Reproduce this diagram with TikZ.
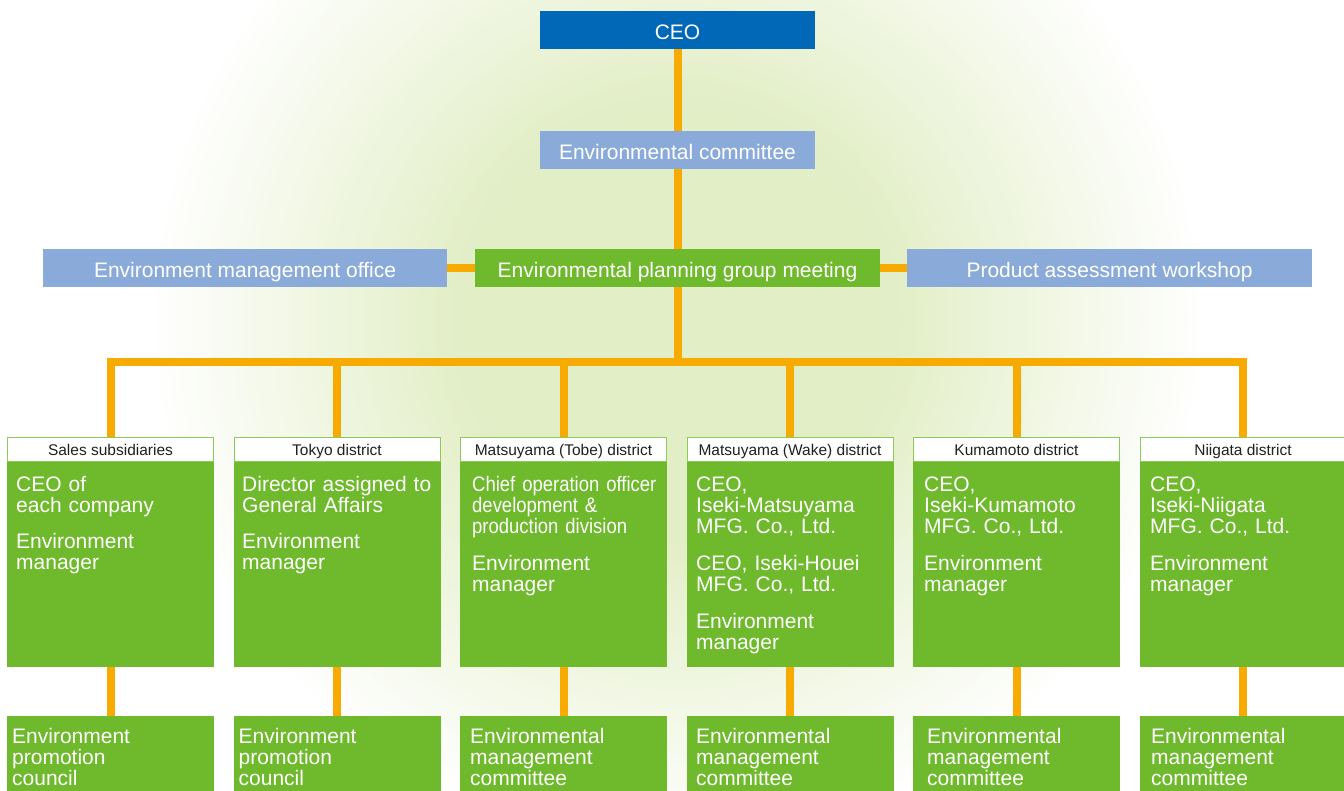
\documentclass[tikz,border=0pt]{standalone}
\usepackage{fontspec}
\setmainfont{Liberation Sans}
\newfontfamily\narrowsans[FakeStretch=0.88]{Liberation Sans}
\definecolor{ceoblue}{HTML}{0068B7}
\definecolor{lightblue}{HTML}{8AAAD9}
\definecolor{boxgreen}{HTML}{6FB92C}
\definecolor{hdrborder}{HTML}{8CCB5A}
\definecolor{linkorange}{HTML}{F7AB00}
\definecolor{glowc}{RGB}{226,238,198}
\definecolor{hdrtext}{HTML}{231F20}
\begin{document}
\begin{tikzpicture}[x=1pt,y=-1pt,
  topbox/.style={minimum height=38pt, inner sep=0pt, text height=19pt, text depth=0pt, text=white, font=\fontsize{21}{21}\selectfont},
  conn/.style={draw=linkorange, line width=8pt},
  distbox/.style={fill=boxgreen, minimum width=207pt, minimum height=230pt, inner sep=0pt},
  hdr/.style={fill=white, draw=hdrborder, line width=1pt, minimum width=206pt, minimum height=24pt, inner sep=0pt, text height=12.5pt, text depth=0pt, text=hdrtext, font=\fontsize{15.5}{16}\selectfont},
  body/.style={anchor=base west, inner sep=0pt, text width=200pt, align=left, text=white, font=\fontsize{21}{21}\selectfont},
  botbox/.style={fill=boxgreen, minimum width=207pt, minimum height=82pt, inner sep=0pt}]
\useasboundingbox (0,0) rectangle (1344,791);
\fill[white] (0,0) rectangle (1344,791);
\begin{scope}
\clip (0,0) rectangle (1344,791);
\foreach \k [evaluate=\k as \r using 530-5*\k, evaluate=\k as \p using 100*\k/63] in {0,...,63} {
  \fill[glowc!\p!white] (677,320) circle[radius=\r];
}
\fill[glowc] (677,320) circle[radius=212];
% bottom boxes
\node[botbox] (b1) at (110.5,757) {};
\node[botbox] (b2) at (337,757) {};
\node[botbox] (b3) at (563.5,757) {};
\node[botbox] (b4) at (790,757) {};
\node[botbox] (b5) at (1016.5,757) {};
\node[botbox] (b6) at (1243,757) {};
\end{scope}
% top
\node[topbox, fill=ceoblue, minimum width=275pt] (ceo) at (677.5,30) {CEO};
\node[topbox, fill=lightblue, minimum width=275pt] (ec) at (677.5,150) {Environmental committee};
\node[topbox, fill=lightblue, minimum width=404pt] (emo) at (245,268) {Environment management office};
\node[topbox, fill=boxgreen, minimum width=405pt] (pgm) at (677.5,268) {Environmental planning group meeting};
\node[topbox, fill=lightblue, minimum width=405pt] (paw) at (1109.5,268) {Product assessment workshop};
% district boxes
\node[distbox] (d1) at (110.5,552) {};
\node[distbox] (d2) at (337,552) {};
\node[distbox] (d3) at (563.5,552) {};
\node[distbox] (d4) at (790,552) {};
\node[distbox] (d5) at (1016.5,552) {};
\node[distbox] (d6) at (1243,552) {};
\node[hdr] (h1) at (110.5,449.5) {Sales subsidiaries};
\node[hdr] (h2) at (337,449.5) {Tokyo district};
\node[hdr] (h3) at (563.5,449.5) {Matsuyama (Tobe) district};
\node[hdr] (h4) at (790,449.5) {Matsuyama (Wake) district};
\node[hdr] (h5) at (1016.5,449.5) {Kumamoto district};
\node[hdr] (h6) at (1243,449.5) {Niigata district};
\node[body] (t1) at (16,491) {CEO of\\each company\\[15pt]Environment\\manager};
\node[body] (t2) at (242,491) {Director assigned to\\General Affairs\\[15pt]Environment\\manager};
\node[body] (t3) at (472,491) {{\narrowsans Chief operation officer}\\{\narrowsans development \&}\\{\narrowsans production division}\\[16pt]Environment\\manager};
\node[body] (t4) at (696,491) {CEO,\\Iseki-Matsuyama\\MFG. Co., Ltd.\\[16pt]CEO, Iseki-Houei\\MFG. Co., Ltd.\\[16pt]Environment\\manager};
\node[body] (t5) at (924,491) {CEO,\\Iseki-Kumamoto\\MFG. Co., Ltd.\\[16pt]Environment\\manager};
\node[body] (t6) at (1150,491) {CEO,\\Iseki-Niigata\\MFG. Co., Ltd.\\[16pt]Environment\\manager};
% bottom texts
\node[body] (u1) at (12,743) {Environment\\promotion\\council};
\node[body] (u2) at (238.5,743) {Environment\\promotion\\council};
\node[body] (u3) at (470,743) {Environmental\\management\\committee};
\node[body] (u4) at (696,743) {Environmental\\management\\committee};
\node[body] (u5) at (927,743) {Environmental\\management\\committee};
\node[body] (u6) at (1151,743) {Environmental\\management\\committee};
% connectors
\coordinate (hub) at (677.5,362);
\draw[conn] (ceo.south) -- (ec.north);
\draw[conn] (ec.south) -- (pgm.north);
\draw[conn] (pgm.south) -- (hub);
\draw[conn] (emo.east) -- (pgm.west);
\draw[conn] (pgm.east) -- (paw.west);
\draw[conn] (h1.north) |- (hub) -| (h6.north);
\draw[conn] (h2.north) -- (h2.north |- hub);
\draw[conn] (h3.north) -- (h3.north |- hub);
\draw[conn] (h4.north) -- (h4.north |- hub);
\draw[conn] (h5.north) -- (h5.north |- hub);
\draw[conn] (d1.south) -- (b1.north);
\draw[conn] (d2.south) -- (b2.north);
\draw[conn] (d3.south) -- (b3.north);
\draw[conn] (d4.south) -- (b4.north);
\draw[conn] (d5.south) -- (b5.north);
\draw[conn] (d6.south) -- (b6.north);
\end{tikzpicture}
\end{document}
